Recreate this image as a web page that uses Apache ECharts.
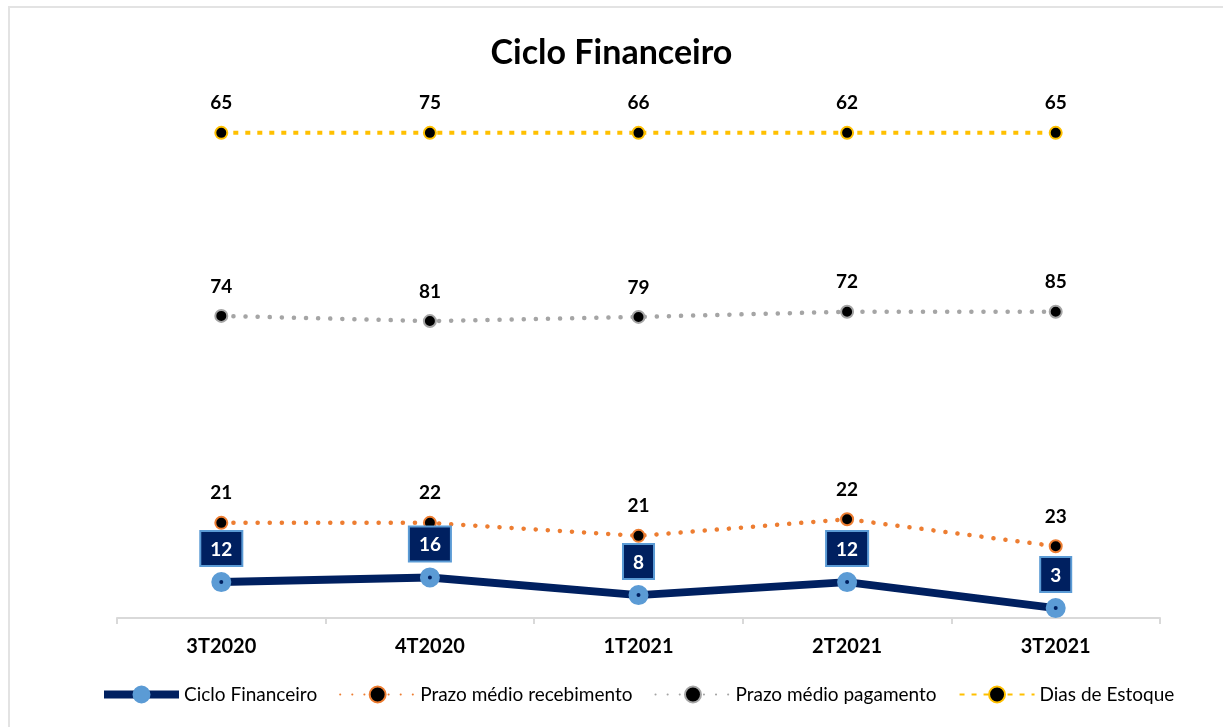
<!DOCTYPE html>
<html>
<head>
<meta charset="utf-8">
<script src="https://cdn.jsdelivr.net/npm/echarts@6/dist/echarts.min.js"></script>
<style>
  html, body { margin: 0; padding: 0; background: #fff; }
  #frame { position: absolute; left: 8px; top: 6px; width: 1300px; height: 800px; border: 2px solid #e3e3e3; }
  #chart { position: absolute; left: 0; top: 0; width: 1223px; height: 727px; }
</style>
</head>
<body>
<div id="frame"></div>
<div id="chart"></div>
<script>
const categories = ['3T2020', '4T2020', '1T2021', '2T2021', '3T2021']

// values shown in the data labels
const cicloFinanceiro = [12, 16, 8, 12, 3]
const prazoRecebimento = [21, 22, 21, 22, 23]
const prazoPagamento = [74, 81, 79, 72, 85]
const diasEstoque = [65, 75, 66, 62, 65]

// plotted level of each point on the (hidden) value axis
const cicloLevel = [6.9, 7.8, 4.4, 6.9, 1.9]
const recebLevel = [18.3, 18.3, 15.8, 19.0, 13.8]
const pagLevel = [58.1, 57.1, 57.9, 58.9, 58.9]
const estoqueLevel = [93.3, 93.3, 93.3, 93.3, 93.3]

const font = 'Lato, "Open Sans", sans-serif'

const chart = echarts.init(document.getElementById('chart'))

function pts(levels, labels) {
  return levels.map((v, i) => ({ value: v, shown: labels[i] }))
}

function dotSeries(name, color, levels, labels, lineStyle) {
  return {
    name: name,
    type: 'line',
    data: pts(levels, labels),
    symbol: 'circle',
    symbolSize: 12,
    lineStyle: Object.assign({ color: color }, lineStyle),
    itemStyle: { color: '#000', borderColor: color, borderWidth: 2 },
    label: {
      show: true,
      position: 'top',
      distance: 13,
      fontFamily: font,
      fontWeight: 'bold',
      fontSize: 19,
      color: '#000',
      formatter: p => p.data.shown
    },
    z: 3
  }
}

const roundDots = { width: 4.5, type: [0.1, 12], cap: 'round' }
const squareDots = { width: 4, type: [5, 7], cap: 'butt' }

chart.setOption({
  animation: false,
  title: {
    text: 'Ciclo Financeiro',
    left: 'center',
    top: 31,
    textStyle: { fontFamily: font, fontWeight: 'bold', fontSize: 34, color: '#000' }
  },
  grid: { left: 117, right: 63, top: 98, bottom: 109 },
  legend: {
    bottom: 18,
    left: 95,
    itemWidth: 75,
    itemHeight: 20,
    itemGap: 22,
    textStyle: { fontFamily: font, fontSize: 19, color: '#000' },
    data: [
      {
        name: 'Ciclo Financeiro',
        lineStyle: { width: 8 },
        itemStyle: { color: '#5b9bd5', borderColor: '#5b9bd5', borderWidth: 2 }
      },
      'Prazo médio recebimento',
      'Prazo médio pagamento',
      'Dias de Estoque'
    ]
  },
  xAxis: {
    type: 'category',
    data: categories,
    boundaryGap: true,
    axisLine: { lineStyle: { color: '#d9d9d9', width: 2 } },
    axisTick: { show: true, length: 6, lineStyle: { color: '#d9d9d9', width: 2 } },
    axisLabel: { margin: 19, fontFamily: font, fontWeight: 'bold', fontSize: 20, color: '#000' }
  },
  yAxis: {
    type: 'value',
    min: 0,
    max: 100,
    show: false
  },
  series: [
    {
      name: 'Ciclo Financeiro',
      type: 'line',
      data: pts(cicloLevel, cicloFinanceiro),
      symbol: 'circle',
      symbolSize: 12,
      lineStyle: { color: '#002060', width: 8 },
      itemStyle: { color: '#002060', borderColor: '#5b9bd5', borderWidth: 8 },
      label: {
        show: true,
        position: 'top',
        distance: 7,
        fontFamily: font,
        fontWeight: 'bold',
        fontSize: 19,
        color: '#fff',
        backgroundColor: '#002060',
        borderColor: '#5b9bd5',
        borderWidth: 2,
        padding: [8, 9, 6, 9],
        formatter: p => p.data.shown
      },
      z: 4
    },
    dotSeries('Prazo médio recebimento', '#ed7d31', recebLevel, prazoRecebimento, roundDots),
    dotSeries('Prazo médio pagamento', '#a5a5a5', pagLevel, prazoPagamento, roundDots),
    dotSeries('Dias de Estoque', '#ffc000', estoqueLevel, diasEstoque, squareDots)
  ]
})
</script>
</body>
</html>
